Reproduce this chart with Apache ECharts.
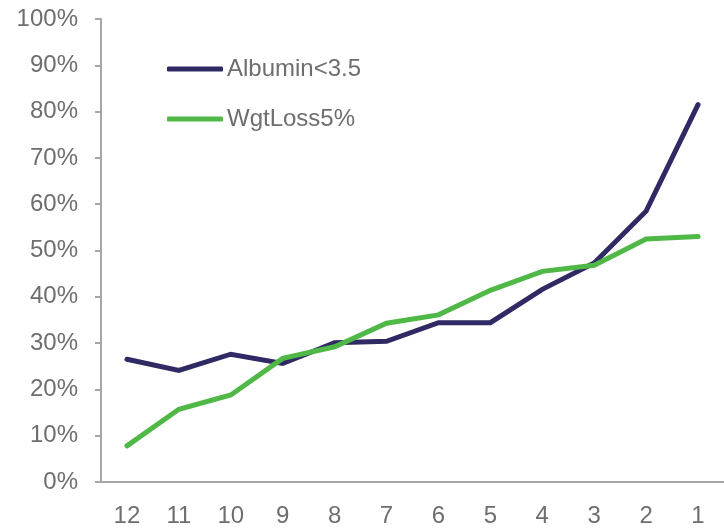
<!DOCTYPE html>
<html>
<head>
<meta charset="utf-8">
<script src="https://cdn.jsdelivr.net/npm/echarts@6/dist/echarts.min.js"></script>
<style>
  html, body { margin: 0; padding: 0; background: #fff; }
  #chart { width: 724px; height: 528px; }
</style>
</head>
<body>
<div id="chart"></div>
<script>
const categories = ['12', '11', '10', '9', '8', '7', '6', '5', '4', '3', '2', '1'];
const albumin = [26.5, 24.1, 27.6, 25.6, 30.1, 30.4, 34.4, 34.4, 41.6, 47.3, 58.5, 81.5];
const wgtLoss = [7.8, 15.7, 18.8, 26.7, 29.2, 34.3, 36.1, 41.4, 45.5, 46.8, 52.5, 53.0];

const chart = echarts.init(document.getElementById('chart'));

const labelColor = '#6d6e70';
const axisColor = '#a6a6a6';
const font = 'Liberation Sans';

chart.setOption({
    animation: false,
    grid: { left: 101, top: 19, width: 628, height: 464 },
    legend: {
        orient: 'vertical',
        left: 167,
        top: 56,
        padding: 0,
        itemGap: 24,
        itemWidth: 56,
        itemHeight: 5,
        icon: 'roundRect',
        textStyle: { fontFamily: font, fontSize: 24, lineHeight: 26, color: labelColor, padding: [0, 0, 0, -1] },
        data: ['Albumin<3.5', 'WgtLoss5%']
    },
    xAxis: {
        type: 'category',
        data: categories,
        boundaryGap: true,
        axisLine: { lineStyle: { color: axisColor, width: 2 } },
        axisTick: { length: 7, lineStyle: { color: axisColor, width: 2 } },
        axisLabel: { fontFamily: font, fontSize: 24, color: labelColor, margin: 22 }
    },
    yAxis: {
        type: 'value',
        min: 0,
        max: 100,
        interval: 10,
        splitLine: { show: false },
        axisLine: { show: true, lineStyle: { color: axisColor, width: 2 } },
        axisTick: { show: true, length: 6, lineStyle: { color: axisColor, width: 2 } },
        axisLabel: {
            fontFamily: font, fontSize: 24, color: labelColor, margin: 23,
            formatter: v => v + '%'
        }
    },
    series: [
        {
            name: 'Albumin<3.5',
            type: 'line',
            data: albumin,
            symbol: 'none',
            color: '#2f2a64',
            lineStyle: { width: 5, color: '#2f2a64', cap: 'round', join: 'miter' }
        },
        {
            name: 'WgtLoss5%',
            type: 'line',
            data: wgtLoss,
            symbol: 'none',
            color: '#4fb847',
            lineStyle: { width: 5, color: '#4fb847', cap: 'round', join: 'miter' }
        }
    ]
});
</script>
</body>
</html>
